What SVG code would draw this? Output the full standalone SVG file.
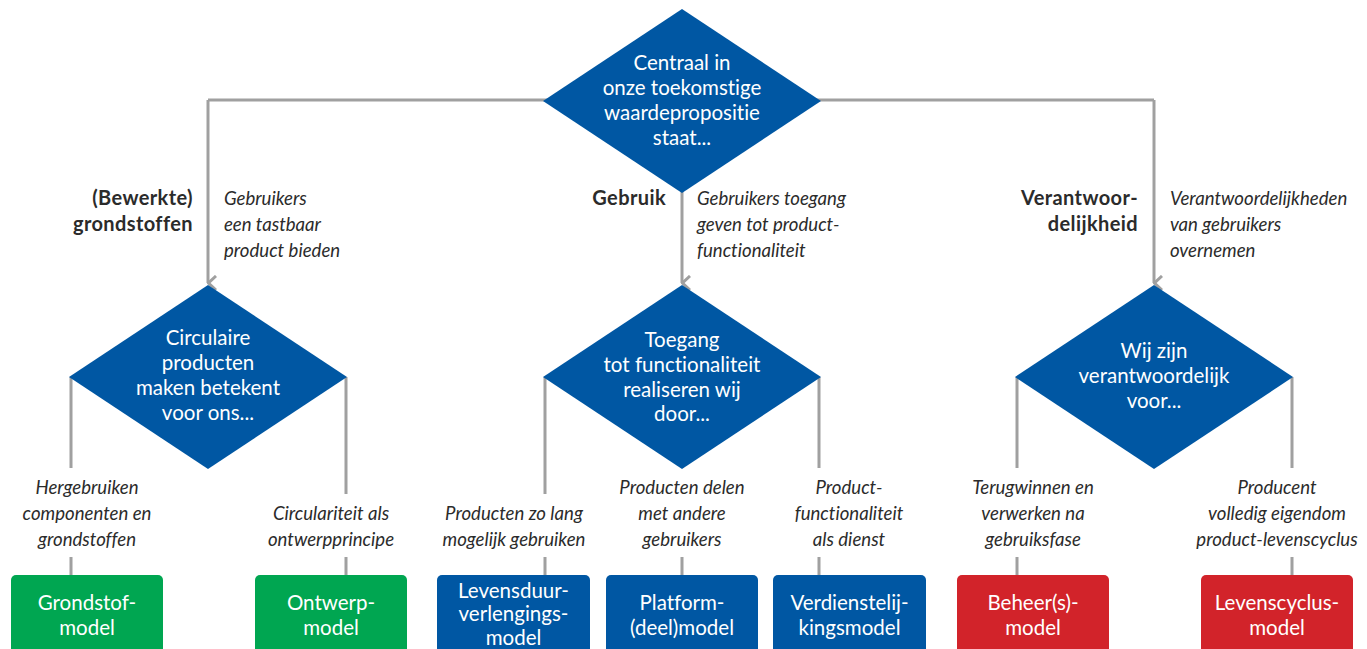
<svg xmlns="http://www.w3.org/2000/svg" width="1367" height="649" viewBox="0 0 1367 649">
<defs>
<style>
.dia{fill:#0057a3}
.g{fill:#00a651}
.b{fill:#0057a3}
.r{fill:#d2232a}
.ln{stroke:#a0a0a0;stroke-width:3;fill:none}
text{font-variant-ligatures:none;font-feature-settings:"liga" 0,"dlig" 0}
.wt{font-family:Lato,"Open Sans",sans-serif;font-size:20.5px;fill:#fff;text-anchor:middle}
.it{font-family:Lato,"Open Sans",sans-serif;font-size:18.6px;font-style:italic;fill:#2b2b2b}
.bd{font-family:Lato,"Open Sans",sans-serif;font-size:20px;font-weight:bold;letter-spacing:0.4px;fill:#2b2b2b;text-anchor:end}
.c{text-anchor:middle}
</style>
<marker id="arr" viewBox="0 0 16 10" refX="8" refY="9" markerWidth="16" markerHeight="10" markerUnits="userSpaceOnUse" orient="auto-start-reverse">
<path d="M1,1 L8,8.5 L15,1" stroke="#a0a0a0" stroke-width="3" fill="none"/>
</marker>
</defs>
<g id="connectors">
<path class="ln" d="M208,100 H1154"/>
<path class="ln" d="M208,100 V283" marker-end="url(#arr)"/>
<path class="ln" d="M682,190 V283" marker-end="url(#arr)"/>
<path class="ln" d="M1154,100 V283" marker-end="url(#arr)"/>
<path class="ln" d="M71,377 V468 M71,557 V576"/>
<path class="ln" d="M346,377 V494 M346,557 V576"/>
<path class="ln" d="M545,377 V494 M545,557 V576"/>
<path class="ln" d="M682,460 V468 M682,557 V576"/>
<path class="ln" d="M819,377 V468 M819,557 V576"/>
<path class="ln" d="M1017,377 V468 M1017,557 V576"/>
<path class="ln" d="M1292,377 V468 M1292,557 V576"/>
</g>
<g id="top">
<polygon class="dia" points="682,9 821,101 682,193 543,101"/>
<text class="wt"><tspan x="682" y="70">Centraal in</tspan><tspan x="682" y="95">onze toekomstige</tspan><tspan x="682" y="120">waardepropositie</tspan><tspan x="682" y="145">staat...</tspan></text>
</g>
<g id="lbl-left">
<text class="bd"><tspan x="193" y="205">(Bewerkte)</tspan><tspan x="193" y="231">grondstoffen</tspan></text>
<text class="it"><tspan x="224" y="205">Gebruikers</tspan><tspan x="224" y="231">een tastbaar</tspan><tspan x="224" y="257">product bieden</tspan></text>
</g>
<g id="lbl-mid">
<text class="bd"><tspan x="666" y="205">Gebruik</tspan></text>
<text class="it"><tspan x="697" y="205">Gebruikers toegang</tspan><tspan x="697" y="231">geven tot product-</tspan><tspan x="697" y="257">functionaliteit</tspan></text>
</g>
<g id="lbl-right">
<text class="bd"><tspan x="1138" y="205">Verantwoor-</tspan><tspan x="1138" y="231">delijkheid</tspan></text>
<text class="it"><tspan x="1170" y="205">Verantwoordelijkheden</tspan><tspan x="1170" y="231">van gebruikers</tspan><tspan x="1170" y="257">overnemen</tspan></text>
</g>
<g id="d-left">
<polygon class="dia" points="208,285 347,377 208,469 69,377"/>
<text class="wt"><tspan x="208" y="345">Circulaire</tspan><tspan x="208" y="370">producten</tspan><tspan x="208" y="395">maken betekent</tspan><tspan x="208" y="420">voor ons...</tspan></text>
</g>
<g id="d-mid">
<polygon class="dia" points="682,285 821,377 682,469 543,377"/>
<text class="wt"><tspan x="682" y="347">Toegang</tspan><tspan x="682" y="372">tot functionaliteit</tspan><tspan x="682" y="397">realiseren wij</tspan><tspan x="682" y="421">door...</tspan></text>
</g>
<g id="d-right">
<polygon class="dia" points="1154,285 1293,377 1154,469 1015,377"/>
<text class="wt"><tspan x="1154" y="358">Wij zijn</tspan><tspan x="1154" y="383">verantwoordelijk</tspan><tspan x="1154" y="408">voor...</tspan></text>
</g>
<g id="desc">
<text class="it c"><tspan x="87" y="494">Hergebruiken</tspan><tspan x="87" y="520">componenten en</tspan><tspan x="87" y="546">grondstoffen</tspan></text>
<text class="it c"><tspan x="331" y="520">Circulariteit als</tspan><tspan x="331" y="546">ontwerpprincipe</tspan></text>
<text class="it c"><tspan x="514" y="520">Producten zo lang</tspan><tspan x="514" y="546">mogelijk gebruiken</tspan></text>
<text class="it c"><tspan x="682" y="494">Producten delen</tspan><tspan x="682" y="520">met andere</tspan><tspan x="682" y="546">gebruikers</tspan></text>
<text class="it c"><tspan x="849" y="494">Product-</tspan><tspan x="849" y="520">functionaliteit</tspan><tspan x="849" y="546">als dienst</tspan></text>
<text class="it c"><tspan x="1033" y="494">Terugwinnen en</tspan><tspan x="1033" y="520">verwerken na</tspan><tspan x="1033" y="546">gebruiksfase</tspan></text>
<text class="it c"><tspan x="1277" y="494">Producent</tspan><tspan x="1277" y="520">volledig eigendom</tspan><tspan x="1277" y="546">product-levenscyclus</tspan></text>
</g>
<g id="box-grondstof">
<rect class="g" x="11" y="575" width="152" height="90" rx="5"/>
<text class="wt"><tspan x="87" y="610">Grondstof-</tspan><tspan x="87" y="635">model</tspan></text>
</g>
<g id="box-ontwerp">
<rect class="g" x="255" y="575" width="152" height="90" rx="5"/>
<text class="wt"><tspan x="331" y="610">Ontwerp-</tspan><tspan x="331" y="635">model</tspan></text>
</g>
<g id="box-levensduur">
<rect class="b" x="437" y="575" width="153" height="90" rx="5"/>
<text class="wt"><tspan x="513.5" y="598">Levensduur-</tspan><tspan x="513.5" y="621">verlengings-</tspan><tspan x="513.5" y="645">model</tspan></text>
</g>
<g id="box-platform">
<rect class="b" x="606" y="575" width="152" height="90" rx="5"/>
<text class="wt"><tspan x="682" y="610">Platform-</tspan><tspan x="682" y="635">(deel)model</tspan></text>
</g>
<g id="box-verdienst">
<rect class="b" x="773" y="575" width="153" height="90" rx="5"/>
<text class="wt"><tspan x="849.5" y="610">Verdienstelij-</tspan><tspan x="849.5" y="635">kingsmodel</tspan></text>
</g>
<g id="box-beheer">
<rect class="r" x="957" y="575" width="152" height="90" rx="5"/>
<text class="wt"><tspan x="1033" y="610">Beheer(s)-</tspan><tspan x="1033" y="635">model</tspan></text>
</g>
<g id="box-levenscyclus">
<rect class="r" x="1201" y="575" width="152" height="90" rx="5"/>
<text class="wt"><tspan x="1277" y="610">Levenscyclus-</tspan><tspan x="1277" y="635">model</tspan></text>
</g>
</svg>
